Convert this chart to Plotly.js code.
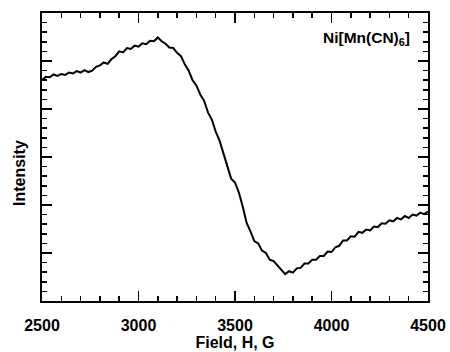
<!DOCTYPE html>
<html>
<head>
<meta charset="utf-8">
<script src="https://cdn.plot.ly/plotly-3.0.1.min.js"></script>
<style>html,body{margin:0;padding:0;background:#fff;}#chart{width:450px;height:352px;}</style>
</head>
<body>
<div id="chart"></div>
<script>
const field = [2500,2520,2540,2560,2580,2600,2620,2640,2660,2680,2700,2720,2740,2760,2780,2800,2820,2840,2860,2880,
2900,2920,2940,2960,2980,3000,3020,3040,3060,3080,3100,3120,3140,3160,3180,3200,3220,3240,3260,3280,
3300,3320,3340,3360,3380,3400,3420,3440,3460,3480,3500,3520,3540,3560,3580,3600,3620,3640,3660,3680,
3700,3720,3740,3760,3780,3800,3820,3840,3860,3880,3900,3920,3940,3960,3980,4000,4020,4040,4060,4080,
4100,4120,4140,4160,4180,4200,4220,4240,4260,4280,4300,4320,4340,4360,4380,4400,4420,4440,4460,4480,4500];
const intensity = [4.60,4.67,4.66,4.72,4.69,4.73,4.71,4.76,4.74,4.79,4.76,4.81,4.77,4.80,4.88,4.91,4.97,4.94,5.04,5.10,
5.20,5.18,5.27,5.25,5.32,5.30,5.37,5.35,5.42,5.41,5.49,5.41,5.36,5.28,5.27,5.17,5.10,4.93,4.80,4.60,
4.49,4.30,4.17,3.93,3.78,3.53,3.34,3.06,2.82,2.55,2.47,2.26,1.97,1.63,1.45,1.25,1.20,1.05,1.00,0.86,
0.83,0.74,0.64,0.56,0.62,0.59,0.68,0.69,0.78,0.78,0.86,0.86,0.94,0.94,1.03,1.02,1.12,1.15,1.26,1.26,
1.35,1.34,1.44,1.42,1.49,1.47,1.55,1.54,1.62,1.61,1.68,1.66,1.73,1.70,1.77,1.73,1.80,1.78,1.84,1.81,1.86];
const xTicks = [2500,3000,3500,4000,4500];
const sampleLabel = 'Ni[Mn(CN)<sub>6</sub>]';
const xTitle = 'Field, H, G';
const yTitle = 'Intensity';

const FONT = 'Liberation Sans, Arial, Helvetica, sans-serif';
const trace = {x: field, y: intensity, type: 'scatter', mode: 'lines',
  line: {color: '#000', width: 2}, hoverinfo: 'skip'};
const layout = {
  width: 450, height: 352,
  margin: {l: 42, r: 22, t: 13, b: 51},
  paper_bgcolor: '#fff', plot_bgcolor: '#fff',
  showlegend: false,
  font: {family: FONT, color: '#000'},
  xaxis: {
    range: [2500, 4500], tickmode: 'array', tickvals: xTicks, ticktext: xTicks.map(String),
    ticks: 'inside', ticklen: 10, tickwidth: 1.5, tickcolor: '#000',
    minor: {dtick: 100, ticks: 'inside', ticklen: 5, tickwidth: 1.5, tickcolor: '#000', showgrid: false},
    showline: true, linewidth: 2, linecolor: '#000', mirror: 'allticks',
    showgrid: false, zeroline: false,
    ticklabelstandoff: 9,
    tickfont: {size: 16, weight: 'bold', family: FONT},
    title: {text: xTitle, font: {size: 16, weight: 'bold', family: FONT}, standoff: 4}
  },
  yaxis: {
    range: [0, 6], dtick: 1, tick0: 0, showticklabels: false,
    ticks: 'inside', ticklen: 10, tickwidth: 1.5, tickcolor: '#000',
    minor: {dtick: 0.2, ticks: 'inside', ticklen: 5, tickwidth: 1.5, tickcolor: '#000', showgrid: false},
    showline: true, linewidth: 2, linecolor: '#000', mirror: 'allticks',
    showgrid: false, zeroline: false
  },
  annotations: [{
    text: sampleLabel, xref: 'paper', yref: 'paper', x: 0.958, y: 0.91,
    xanchor: 'right', yanchor: 'middle', showarrow: false,
    font: {size: 15.5, weight: 'bold', family: FONT, color: '#000'}
  }, {
    text: yTitle, xref: 'paper', yref: 'paper', x: -0.06, y: 0.444,
    xanchor: 'center', yanchor: 'middle', textangle: -90, showarrow: false,
    font: {size: 16, weight: 'bold', family: FONT, color: '#000'}
  }]
};
Plotly.newPlot('chart', [trace], layout, {displayModeBar: false, staticPlot: true});
</script>
</body>
</html>
